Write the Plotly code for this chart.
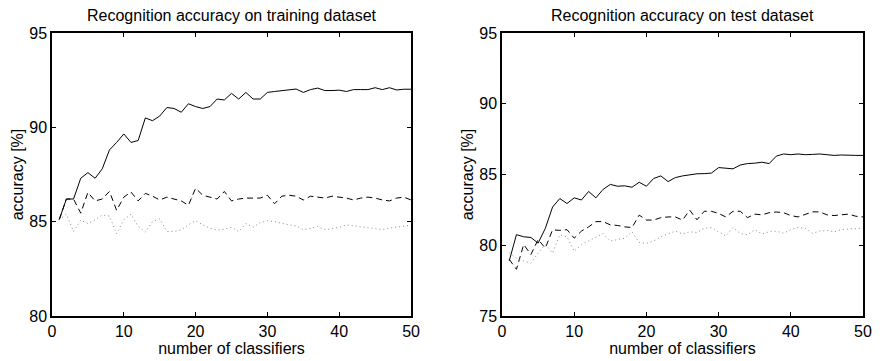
import plotly.graph_objects as go
from plotly.subplots import make_subplots

classifiers = list(range(1, 51))

train_solid = [85.1, 86.2, 86.2, 87.3, 87.6, 87.3, 87.8, 88.8, 89.2, 89.65,
               89.2, 89.3, 90.5, 90.35, 90.6, 91.05, 91.0, 90.8, 91.25, 91.1,
               91.0, 91.1, 91.5, 91.45, 91.8, 91.5, 91.85, 91.5, 91.5, 91.85,
               91.9, 91.95, 91.97, 92.03, 91.85, 92.0, 92.08, 91.95, 91.95, 91.97,
               91.9, 92.0, 92.0, 92.0, 92.1, 92.0, 92.1, 91.98, 92.02, 92.02]
train_dash = [85.1, 86.2, 86.2, 85.45, 86.55, 86.1, 86.2, 86.6, 85.6, 86.3,
              86.57, 86.1, 86.5, 86.35, 86.15, 86.3, 86.2, 86.1, 85.87, 86.77,
              86.4, 86.3, 86.2, 86.6, 86.1, 86.2, 86.25, 86.25, 86.25, 86.4,
              85.95, 86.35, 86.4, 86.35, 86.15, 86.35, 86.3, 86.25, 86.35, 86.3,
              86.25, 86.15, 86.25, 86.3, 86.25, 86.15, 86.1, 86.25, 86.3, 86.15]
train_dot = [85.1, 85.4, 84.48, 85.08, 84.9, 85.1, 85.35, 85.3, 84.36, 85.1,
             85.4, 84.75, 84.45, 85.0, 85.15, 84.48, 84.48, 84.57, 84.83, 85.05,
             84.83, 84.65, 84.55, 84.6, 84.7, 84.48, 84.9, 84.7, 84.95, 85.05,
             85.0, 84.9, 84.83, 84.78, 84.57, 84.65, 84.75, 84.57, 84.65, 84.7,
             84.83, 84.78, 84.72, 84.68, 84.62, 84.58, 84.66, 84.72, 84.8, 84.82]

test_solid = [78.9, 80.75, 80.6, 80.55, 80.15, 81.2, 82.7, 83.3, 82.95, 83.35,
              83.2, 83.8, 83.35, 83.95, 84.3, 84.17, 84.2, 84.1, 84.45, 84.17,
              84.72, 84.9, 84.5, 84.78, 84.9, 85.0, 85.05, 85.06, 85.1, 85.49,
              85.45, 85.4, 85.67, 85.77, 85.8, 85.87, 85.77, 86.3, 86.45, 86.4,
              86.45, 86.4, 86.42, 86.45, 86.4, 86.35, 86.38, 86.35, 86.35, 86.35]
test_dash = [79.0, 78.3, 80.05, 79.35, 80.4, 79.8, 81.09, 81.05, 81.1, 80.5,
             81.0, 81.3, 81.67, 81.67, 81.44, 81.4, 81.3, 81.25, 82.13, 81.78,
             81.78, 81.95, 82.0, 82.0, 81.78, 82.48, 81.8, 82.4, 82.4, 82.25,
             82.0, 82.4, 82.4, 81.95, 82.2, 82.15, 82.3, 82.35, 82.3, 82.1,
             82.0, 82.2, 82.36, 82.36, 82.15, 82.1, 82.15, 82.2, 82.05, 82.0]
test_dot = [79.47, 79.1, 78.9, 78.73, 79.45, 80.05, 79.45, 80.74, 80.6, 79.57,
            80.05, 80.3, 80.6, 80.83, 80.3, 80.4, 80.5, 80.95, 80.2, 80.13,
            80.3, 80.6, 80.8, 81.0, 80.8, 80.95, 80.9, 81.2, 81.25, 80.95,
            80.65, 81.25, 80.83, 80.74, 81.1, 80.8, 80.95, 81.0, 80.85, 81.1,
            81.25, 81.2, 80.85, 81.0, 81.05, 80.95, 81.1, 81.15, 81.2, 81.2]

titles = ["Recognition accuracy on training dataset", "Recognition accuracy on test dataset"]
x_ticks = [0, 10, 20, 30, 40, 50]
train_y_ticks = [80, 85, 90, 95]
test_y_ticks = [75, 80, 85, 90, 95]

FONT = "Liberation Sans, Arial, sans-serif"
FS = 16

fig = make_subplots(rows=1, cols=2, horizontal_spacing=0.1122)
fig.update_xaxes(domain=[0, 0.4427], row=1, col=1)
fig.update_xaxes(domain=[0.5549, 1], row=1, col=2)

styles = [("solid", "black"), ("6px,4px", "black"), ("1px,3px", "#8a8a8a")]
for col, series in [(1, [train_solid, train_dash, train_dot]),
                    (2, [test_solid, test_dash, test_dot])]:
    for ys, (dash, color) in zip(series, styles):
        fig.add_trace(go.Scatter(x=classifiers, y=ys, mode="lines",
                                 line=dict(color=color, width=1, dash=dash),
                                 showlegend=False, hoverinfo="skip"),
                      row=1, col=col)

axis_common = dict(showline=True, linecolor="black", linewidth=1.5, mirror="ticks",
                   ticks="inside", ticklen=4, tickcolor="black", showgrid=False,
                   zeroline=False, tickfont=dict(family=FONT, size=FS, color="black"))
title_font = dict(family=FONT, size=FS, color="black")

for col in (1, 2):
    fig.update_xaxes(range=[0, 50], tickvals=x_ticks,
                     title=dict(text="number of classifiers", standoff=0, font=title_font),
                     **axis_common, row=1, col=col)
fig.update_yaxes(range=[80, 95], tickvals=train_y_ticks,
                 title=dict(text="accuracy [%]", standoff=2, font=title_font),
                 **axis_common, row=1, col=1)
fig.update_yaxes(range=[75, 95], tickvals=test_y_ticks,
                 title=dict(text="accuracy [%]", standoff=2, font=title_font),
                 **axis_common, row=1, col=2)

for xc, t in zip([0.4427 / 2, (0.5549 + 1) / 2], titles):
    fig.add_annotation(text=t, x=xc, y=1, xref="paper", yref="paper",
                       xanchor="center", yanchor="bottom", yshift=7, showarrow=False,
                       font=title_font)

fig.update_layout(width=882, height=361, margin=dict(l=52, r=10, t=33, b=40),
                  plot_bgcolor="white", paper_bgcolor="white")

fig.write_html("out.html", config={"displayModeBar": False},
               post_script="document.body.style.margin='0';")
